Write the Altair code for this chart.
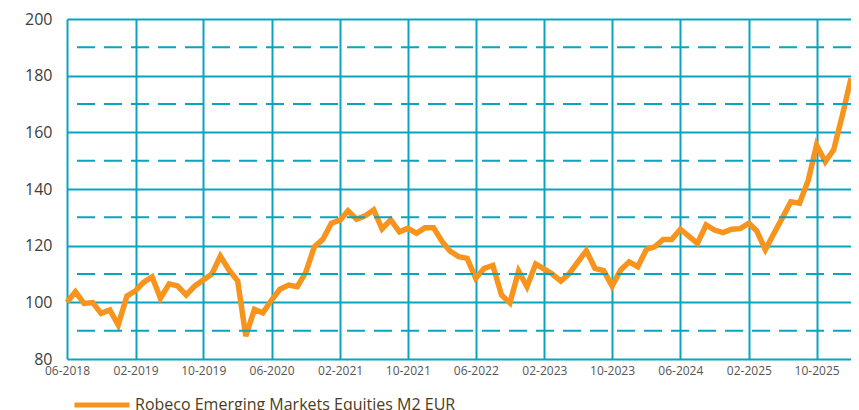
import altair as alt
import pandas as pd

series_name = "Robeco Emerging Markets Equities M2 EUR"
start_month = "2018-06-01"
values = [
    100.0, 103.7, 99.6, 99.9, 96.1, 97.3, 92.0, 102.2, 104.1, 107.0,
    109.0, 101.4, 106.5, 105.8, 102.6, 105.8, 107.9, 110.0, 116.3, 111.4,
    107.6, 88.1, 97.5, 96.3, 100.8, 104.6, 106.1, 105.5, 110.5, 119.6,
    122.2, 127.9, 129.0, 132.3, 129.3, 130.5, 132.6, 125.9, 129.1, 124.9,
    126.1, 124.4, 126.3, 126.3, 121.4, 118.1, 116.1, 115.5, 108.5, 112.0,
    113.0, 102.6, 99.8, 111.0, 105.5, 113.5, 111.7, 110.0, 107.5, 110.1,
    114.3, 118.2, 112.0, 111.2, 105.8, 111.4, 114.3, 112.6, 118.7, 119.6,
    122.2, 122.2, 125.8, 123.4, 120.8, 127.3, 125.5, 124.6, 125.8, 126.0,
    127.9, 125.2, 118.6, 124.2, 129.9, 135.5, 135.0, 143.0, 155.5, 149.6,
    153.8, 166.0, 179.0,
]
tick_months = [(2018, 6), (2019, 2), (2019, 10), (2020, 6), (2021, 2), (2021, 10),
               (2022, 6), (2023, 2), (2023, 10), (2024, 6), (2025, 2), (2025, 10)]
y_ticks = [80, 100, 120, 140, 160, 180, 200]
dashed_levels = [90, 110, 130, 150, 170, 190]

TEAL = "#0aa3c0"
ORANGE = "#f7941d"

dates = pd.date_range(start_month, periods=len(values), freq="MS").strftime("%Y-%m-%d")
df = pd.DataFrame({"date": dates, "value": values, "series": series_name})
dash_df = pd.DataFrame({"level": dashed_levels})

x_vals = [alt.DateTime(year=y, month=m, date=1, utc=True) for y, m in tick_months]
x_domain = [alt.DateTime(year=2018, month=6, date=1, utc=True),
            alt.DateTime(year=2026, month=2, date=1, utc=True)]

x_enc = alt.X(
    "date:T",
    scale=alt.Scale(type="utc", domain=x_domain, nice=False),
    axis=alt.Axis(values=x_vals, format="%m-%Y", title=None, grid=True,
                  gridColor=TEAL, gridWidth=2, gridOpacity=1, domain=False,
                  ticks=False, labelFont="Open Sans", labelFontSize=12,
                  labelColor="#555555", labelPadding=6, labelFlush=False),
)
y_enc = alt.Y(
    "value:Q",
    scale=alt.Scale(domain=[80, 200], nice=False, zero=False),
    axis=alt.Axis(values=y_ticks, title=None, grid=True, gridColor=TEAL,
                  gridWidth=2, gridOpacity=1, domain=False, ticks=False,
                  labelFont="Open Sans", labelFontSize=16, labelColor="#3d3d3d",
                  labelPadding=15),
)

dashes = alt.Chart(dash_df).mark_rule(
    color=TEAL, strokeWidth=2, strokeDash=[18, 9]
).encode(y=alt.Y("level:Q", scale=alt.Scale(domain=[80, 200], nice=False, zero=False)))

line = alt.Chart(df).mark_line(strokeWidth=5.5, strokeJoin="miter", clip=False).encode(
    x=x_enc,
    y=y_enc,
    color=alt.Color(
        "series:N",
        scale=alt.Scale(domain=[series_name], range=[ORANGE]),
        legend=alt.Legend(
            orient="none", legendX=5, legendY=356, title=None,
            symbolType="stroke", symbolSize=3025, symbolStrokeWidth=5,
            labelFont="Open Sans", labelFontSize=16, labelColor="#4b3b22",
            labelOffset=3, labelLimit=600,
        ),
    ),
)

chart = alt.layer(line, dashes).properties(
    width=784, height=340,
    padding={"left": 59, "top": 11, "right": 0, "bottom": 60},
    autosize="none",
).configure_view(stroke=None)

chart.save("out.html", embed_options={"renderer": "svg", "actions": False})
